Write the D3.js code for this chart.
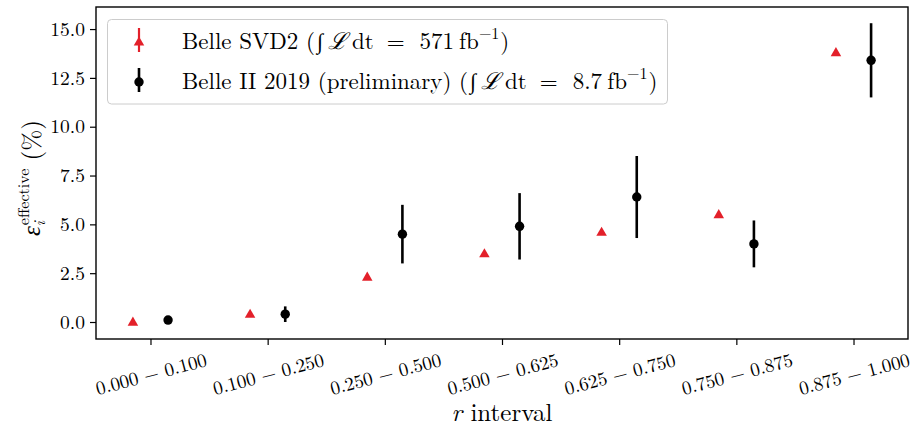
<!DOCTYPE html>
<html>
<head>
<meta charset="utf-8">
<script src="https://cdn.jsdelivr.net/npm/d3@7"></script>
<style>
  html, body { margin: 0; padding: 0; background: #fff; }
  svg { display: block; }
</style>
</head>
<body>
<svg id="chart" width="912" height="428"></svg>
<script>
// ---- data ----
const categories = ["0.000 − 0.100", "0.100 − 0.250", "0.250 − 0.500", "0.500 − 0.625",
                    "0.625 − 0.750", "0.750 − 0.875", "0.875 − 1.000"];
const belleValues = [0.0, 0.4, 2.3, 3.5, 4.6, 5.5, 13.8];
const belleErrors = [0.05, 0.05, 0.05, 0.05, 0.05, 0.05, 0.15];
const belle2Values = [0.1, 0.4, 4.5, 4.9, 6.4, 4.0, 13.4];
const belle2Errors = [0.1, 0.4, 1.5, 1.7, 2.1, 1.2, 1.9];
const yTicks = [0.0, 2.5, 5.0, 7.5, 10.0, 12.5, 15.0];

// pick an installed serif font
function available(name) {
  const c = document.createElement("canvas").getContext("2d");
  const s = "Belle SVD2 0.125 interval WWiil";
  return ["monospace", "sans-serif"].every(fb => {
    c.font = `40px ${fb}`; const w0 = c.measureText(s).width;
    c.font = `40px "${name}", ${fb}`; const w1 = c.measureText(s).width;
    return Math.abs(w0 - w1) > 0.5;
  });
}
const serifCandidates = ["Latin Modern Roman", "CMU Serif", "Liberation Serif", "DejaVu Serif",
  "Noto Serif", "Tinos", "Times New Roman", "Nimbus Roman", "FreeSerif"];
const found = serifCandidates.find(available);
const FONT = (found ? `"${found}", ` : "") + "serif";

const red = "#e3202a";
const svg = d3.select("#chart").style("font-family", FONT);
const L = 96, R = 908, T = 7, B = 339;

const x = d3.scaleLinear().domain([-0.465, 6.465]).range([L, R]);
const y = d3.scaleLinear().domain([-0.87, 16.13]).range([B, T]);
const off = 0.15;

// axes
const yAxis = svg.append("g").attr("transform", `translate(${L},0)`)
  .call(d3.axisLeft(y).tickValues(yTicks).tickFormat(d3.format(".1f")).tickSize(6).tickPadding(5));
const xAxis = svg.append("g").attr("transform", `translate(0,${B})`)
  .call(d3.axisBottom(x).tickValues(d3.range(categories.length)).tickFormat(i => categories[i]).tickSize(6));
[yAxis, xAxis].forEach(g => {
  g.attr("font-family", null).style("font-family", FONT);
  g.select(".domain").remove();
  g.selectAll(".tick line").attr("stroke", "#000").attr("stroke-width", 1.2);
  g.selectAll(".tick text").attr("fill", "#000");
});
yAxis.selectAll(".tick text").attr("font-size", 19.5);
xAxis.selectAll(".tick text")
  .attr("font-size", 19)
  .attr("y", 0).attr("dy", null)
  .attr("text-anchor", "middle").attr("dominant-baseline", "central")
  .attr("transform", "translate(0,34) rotate(-15)");

// frame
svg.append("rect").attr("x", L).attr("y", T).attr("width", R - L).attr("height", B - T)
  .attr("fill", "none").attr("stroke", "#000").attr("stroke-width", 1.4);

// error bars + markers
const plot = svg.append("g");
const triangle = d3.symbol().type(d3.symbolTriangle).size(48);

function errBars(vals, errs, dx, color, w) {
  plot.selectAll(null).data(vals).enter().append("line")
    .attr("x1", (d, i) => x(i + dx)).attr("x2", (d, i) => x(i + dx))
    .attr("y1", (d, i) => y(d - errs[i])).attr("y2", (d, i) => y(d + errs[i]))
    .attr("stroke", color).attr("stroke-width", w);
}
errBars(belleValues, belleErrors, -off, red, 2.2);
plot.selectAll(null).data(belleValues).enter().append("path")
  .attr("d", triangle)
  .attr("transform", (d, i) => `translate(${x(i - off)},${y(d) + 0.6})`)
  .attr("fill", red);

errBars(belle2Values, belle2Errors, off, "#000", 2.6);
plot.selectAll(null).data(belle2Values).enter().append("circle")
  .attr("cx", (d, i) => x(i + off)).attr("cy", d => y(d)).attr("r", 4.7)
  .attr("fill", "#000");

// legend
const lg = svg.append("g");
lg.append("rect").attr("x", 107.5).attr("y", 19.5).attr("width", 560).attr("height", 84.5)
  .attr("rx", 4).attr("fill", "#fff").attr("fill-opacity", 0.85)
  .attr("stroke", "#cccccc").attr("stroke-width", 1);

const lx = 139;
lg.append("line").attr("x1", lx).attr("x2", lx).attr("y1", 28).attr("y2", 52)
  .attr("stroke", red).attr("stroke-width", 2.2);
lg.append("path").attr("d", triangle).attr("transform", `translate(${lx},${42.5})`).attr("fill", red);
lg.append("line").attr("x1", lx).attr("x2", lx).attr("y1", 68).attr("y2", 92)
  .attr("stroke", "#000").attr("stroke-width", 2.6);
lg.append("circle").attr("cx", lx).attr("cy", 82).attr("r", 4.7).attr("fill", "#000");

function legendText(yb, pre, num) {
  const t = lg.append("text").attr("x", 182).attr("y", yb).attr("font-size", 23).attr("fill", "#000");
  t.append("tspan").text(pre + " (");
  t.append("tspan").text("∫").attr("dx", 2).attr("font-size", 22).style("font-style", "italic");
  t.append("tspan").text("ℒ").attr("dx", 5).style("font-style", "italic");
  t.append("tspan").text("dt").attr("dx", 5);
  t.append("tspan").text("=").attr("dx", 13);
  t.append("tspan").text(num).attr("dx", 15);
  t.append("tspan").text("fb").attr("dx", 5);
  t.append("tspan").text("−1").attr("font-size", 16).attr("dy", -10);
  t.append("tspan").text(")").attr("dx", 1).attr("dy", 10);
}
legendText(49, "Belle SVD2", "571");
legendText(89, "Belle II 2019 (preliminary)", "8.7");

// axis labels
const xl = svg.append("text").attr("x", (L + R) / 2).attr("y", 421)
  .attr("text-anchor", "middle").attr("font-size", 25).attr("fill", "#000");
xl.append("tspan").text("r").style("font-style", "italic");
xl.append("tspan").text(" interval");

const yl = svg.append("text").attr("transform", `translate(40,178) rotate(-90)`)
  .attr("text-anchor", "middle").attr("font-size", 25).attr("fill", "#000");
yl.append("tspan").text("ε").style("font-style", "italic");
yl.append("tspan").text("i").style("font-style", "italic").attr("font-size", 16).attr("dy", 5);
yl.append("tspan").text("effective").attr("font-size", 16).attr("dy", -16).attr("dx", -4);
yl.append("tspan").text(" (%)").attr("dy", 11);
</script>
</body>
</html>
